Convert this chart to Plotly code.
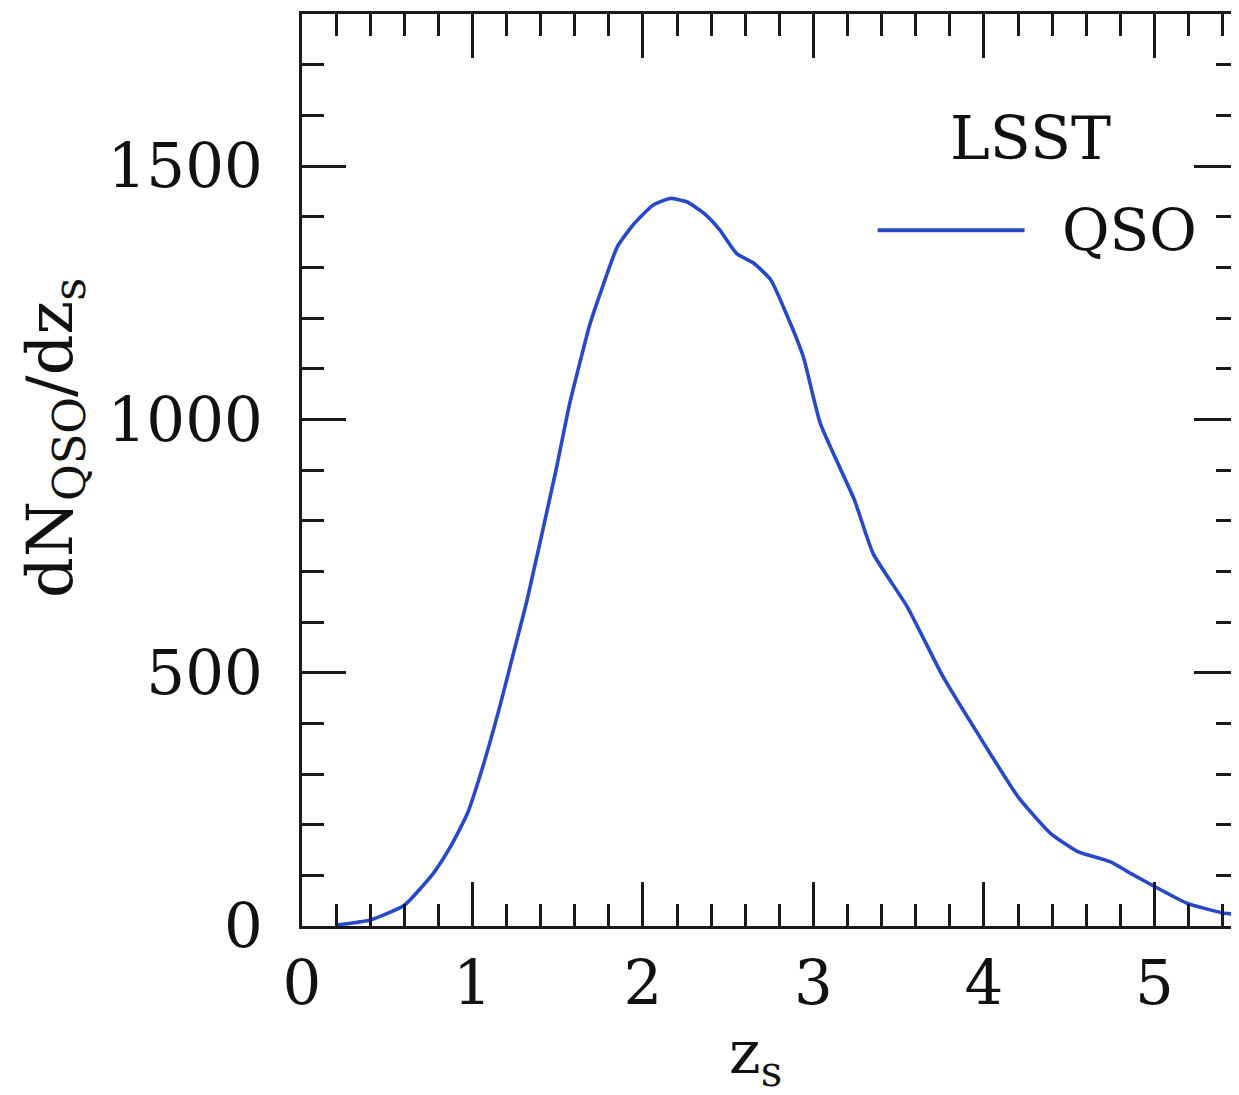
import plotly.graph_objects as go

# Data
z_s = [0.2, 0.4, 0.6, 0.77, 0.87, 0.97, 1.06, 1.16, 1.24, 1.32, 1.49, 1.57, 1.69, 1.75,
       1.85, 1.95, 2.06, 2.16, 2.26, 2.36, 2.45, 2.55, 2.65, 2.75, 2.84, 2.94, 3.04,
       3.24, 3.35, 3.55, 3.76, 4.0, 4.2, 4.39, 4.55, 4.74, 4.86, 5.0, 5.19, 5.41, 5.45]
dn_dz = [2, 12, 41, 104, 156, 222, 314, 433, 538, 643, 900, 1031, 1189, 1249,
         1341, 1387, 1423, 1436, 1429, 1406, 1374, 1327, 1308, 1275, 1209, 1124, 992,
         841, 735, 630, 492, 360, 255, 183, 147, 127, 104, 78, 45, 25, 24]

x_ticks = [0, 1, 2, 3, 4, 5]
y_ticks = [0, 500, 1000, 1500]
series_name = "QSO"
legend_title = "LSST"

LINE_COLOR = "#2748c9"
AX_COLOR = "#1a1a1a"
FONT = "DejaVu Serif"

fig = go.Figure()
fig.add_trace(go.Scatter(
    x=z_s, y=dn_dz, mode="lines", name=series_name,
    line=dict(color=LINE_COLOR, width=3.6, shape="spline", smoothing=0.5),
    showlegend=False,
))

axis_common = dict(
    showline=True, linecolor=AX_COLOR, linewidth=3, mirror="ticks",
    ticks="inside", ticklen=44, tickwidth=3, tickcolor=AX_COLOR,
    showgrid=False, zeroline=False, automargin=False,
    tickfont=dict(family=FONT, size=61, color="#111"),
)

fig.update_xaxes(
    range=[0, 5.49], tickvals=x_ticks, ticktext=[str(t) for t in x_ticks],
    minor=dict(ticks="inside", ticklen=22, tickwidth=3, tickcolor=AX_COLOR, dtick=0.2, tick0=0, showgrid=False),
    ticklabelstandoff=2,
    **axis_common,
)
fig.update_yaxes(
    range=[0, 1800], tickvals=y_ticks, ticktext=[str(t) for t in y_ticks],
    minor=dict(ticks="inside", ticklen=22, tickwidth=3, tickcolor=AX_COLOR, dtick=100, tick0=0, showgrid=False),
    ticklabelstandoff=24,
    **axis_common,
)

# axis titles
fig.add_annotation(
    text="z<sub>s</sub>", xref="paper", yref="paper", x=0.485, y=-0.143,
    xanchor="center", yanchor="middle", showarrow=False,
    font=dict(family=FONT, size=60, color="#111"),
)
fig.add_annotation(
    text="dN<sub>QSO</sub>/dz<sub>s</sub>", textangle=-90,
    xref="paper", yref="paper", x=-0.265, y=0.535,
    xanchor="center", yanchor="middle", showarrow=False,
    font=dict(family=FONT, size=64, color="#111"),
)

# legend (manual, to match the long sample line)
fig.add_annotation(
    text=legend_title, xref="paper", yref="paper", x=0.778, y=0.864,
    xanchor="center", yanchor="middle", showarrow=False,
    font=dict(family=FONT, size=60, color="#111"),
)
fig.add_annotation(
    text=series_name, xref="paper", yref="paper", x=0.81, y=0.763,
    xanchor="left", yanchor="middle", showarrow=False,
    font=dict(family=FONT, size=58, color="#111"),
)
fig.add_shape(type="line", xref="paper", yref="paper", x0=0.615, x1=0.772, y0=0.763, y1=0.763,
              line=dict(color=LINE_COLOR, width=4))

fig.update_layout(
    width=1231, height=1087,
    margin=dict(l=294, r=1, t=6, b=169),
    paper_bgcolor="white", plot_bgcolor="white",
    showlegend=False,
)

fig.write_html("out.html")
